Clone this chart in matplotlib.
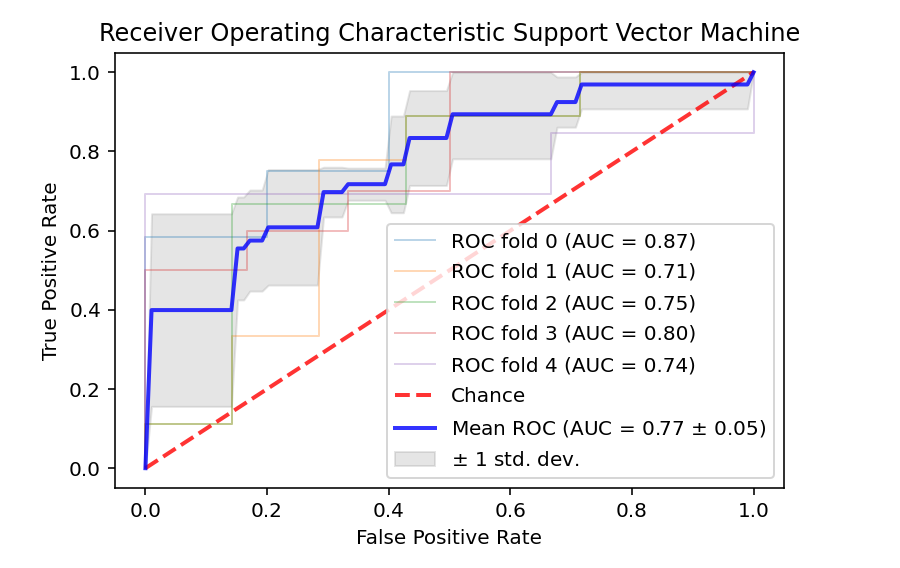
import numpy as np
import matplotlib
matplotlib.use("Agg")
import matplotlib.pyplot as plt

# ROC step points of each CV fold
fold_fpr = [
    [0.0, 0.0, 0.2, 0.2, 0.4, 0.4, 1.0],
    [0.0, 0.0, 0.143, 0.143, 0.286, 0.286, 0.429, 0.429, 0.714, 0.714, 1.0],
    [0.0, 0.0, 0.143, 0.143, 0.429, 0.429, 0.714, 0.714, 1.0],
    [0.0, 0.0, 0.167, 0.167, 0.333, 0.333, 0.5, 0.5, 1.0],
    [0.0, 0.0, 0.667, 0.667, 1.0, 1.0],
]
fold_tpr = [
    [0.0, 0.583, 0.583, 0.75, 0.75, 1.0, 1.0],
    [0.0, 0.111, 0.111, 0.333, 0.333, 0.778, 0.778, 0.889, 0.889, 1.0, 1.0],
    [0.0, 0.111, 0.111, 0.667, 0.667, 0.889, 0.889, 1.0, 1.0],
    [0.0, 0.5, 0.5, 0.6, 0.6, 0.7, 0.7, 1.0, 1.0],
    [0.0, 0.692, 0.692, 0.846, 0.846, 1.0],
]
fold_auc = [0.87, 0.71, 0.75, 0.80, 0.74]
mean_auc = 0.77
std_auc = 0.05

fig = plt.figure(figsize=(6.25, 568 / 144), dpi=144)
ax = fig.add_axes([115 / 900, 80 / 568, 669 / 900, 435.5 / 568])

mean_fpr = np.linspace(0, 1, 100)
tprs = []
for i, (fpr, tpr) in enumerate(zip(fold_fpr, fold_tpr)):
    ax.plot(fpr, tpr, lw=1, alpha=0.3,
            label='ROC fold %d (AUC = %0.2f)' % (i, fold_auc[i]))
    interp_tpr = np.interp(mean_fpr, fpr, tpr)
    interp_tpr[0] = 0.0
    tprs.append(interp_tpr)

ax.plot([0, 1], [0, 1], linestyle='--', lw=2, color='r',
        label='Chance', alpha=.8)

mean_tpr = np.mean(tprs, axis=0)
mean_tpr[-1] = 1.0
ax.plot(mean_fpr, mean_tpr, color='b',
        label=r'Mean ROC (AUC = %0.2f $\pm$ %0.2f)' % (mean_auc, std_auc),
        lw=2, alpha=.8)

std_tpr = np.std(tprs, axis=0)
tprs_upper = np.minimum(mean_tpr + std_tpr, 1)
tprs_lower = np.maximum(mean_tpr - std_tpr, 0)
ax.fill_between(mean_fpr, tprs_lower, tprs_upper, color='grey', alpha=.2,
                label=r'$\pm$ 1 std. dev.')

ax.set(xlim=[-0.05, 1.05], ylim=[-0.05, 1.05],
       title="Receiver Operating Characteristic Support Vector Machine")
ax.set_xlabel('False Positive Rate')
ax.set_ylabel('True Positive Rate')
ax.legend(loc="lower right", labelspacing=0.6)

fig.savefig('out.png', dpi=144)
